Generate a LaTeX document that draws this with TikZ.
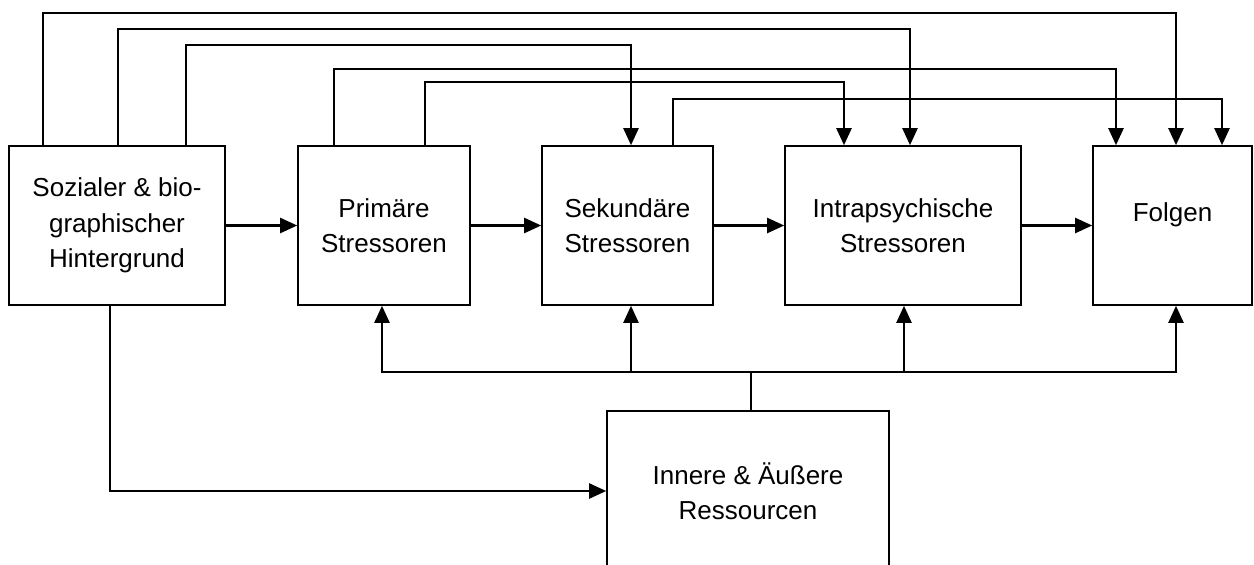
\documentclass[tikz,border=0pt]{standalone}
\usepackage{fontspec}
\setmainfont{Liberation Sans}
\usetikzlibrary{arrows.meta}

\tikzset{
    stage/.style={draw, line width=1.6pt, minimum width=#1, minimum height=159pt,
        inner sep=0pt, align=center, font=\fontsize{26pt}{35.5pt}\selectfont},
    link/.style={line width=2.3pt, -{Triangle[length=17pt,width=15pt]}},
    feed/.style={line width=1.5pt},
}

\begin{document}
\begin{tikzpicture}[x=1pt, y=-1pt]

    \clip (0,0) rectangle (1254,565);

    \node[stage=216pt] (soz) at (117,225.5) {Sozialer \& bio-\\graphischer\\Hintergrund};
    \node[stage=172pt] (prim) at (384,225.5) {Primäre\\Stressoren};
    \node[stage=171pt] (sek) at (627.5,225.5) {Sekundäre\\Stressoren};
    \node[stage=236pt] (intra) at (903,225.5) {Intrapsychische\\Stressoren};
    \node[stage=159pt, text height=10pt, text depth=19pt] (folg) at (1172.5,225.5) {Folgen};
    \node[stage=282pt, minimum height=160pt] (res) at (748,491) {Innere \& Äußere\\Ressourcen};

    % taps on top of the boxes
    \coordinate (soz-a) at ([xshift=-74pt]soz.north);
    \coordinate (soz-b) at ([xshift=1pt]soz.north);
    \coordinate (soz-c) at ([xshift=69pt]soz.north);
    \coordinate (prim-a) at ([xshift=-50pt]prim.north);
    \coordinate (prim-b) at ([xshift=41pt]prim.north);
    \coordinate (sek-a) at ([xshift=3.5pt]sek.north);
    \coordinate (sek-b) at ([xshift=45.5pt]sek.north);
    \coordinate (intra-a) at ([xshift=-59pt]intra.north);
    \coordinate (intra-b) at ([xshift=7pt]intra.north);
    \coordinate (folg-a) at ([xshift=-56.5pt]folg.north);
    \coordinate (folg-b) at ([xshift=3.5pt]folg.north);
    \coordinate (folg-c) at ([xshift=49.5pt]folg.north);

    \foreach \a/\b/\h in {soz-a/folg-b/13, soz-b/intra-b/29, soz-c/sek-a/45,
                          prim-a/folg-a/69, prim-b/intra-a/82, sek-b/folg-c/99} {
        \draw[link] (\a) -- (\a |- 0,\h) -| (\b);
    }

    \foreach \a/\b in {soz/prim, prim/sek, sek/intra, intra/folg} {
        \draw[link] (\a) -- (\b);
    }

    \draw[link] ([xshift=-7pt]soz.south) |- (res);

    % resources feed back into every stage
    \coordinate (stem) at ([xshift=3pt]res.north);
    \coordinate (bus) at (stem |- 0,372);
    \draw[feed] (stem) -- (bus);
    \foreach \t/\dx in {prim/-2, sek/3.5, intra/1, folg/3.5} {
        \draw[link] (bus) -| ([xshift=\dx pt]\t.south);
    }

\end{tikzpicture}
\end{document}
